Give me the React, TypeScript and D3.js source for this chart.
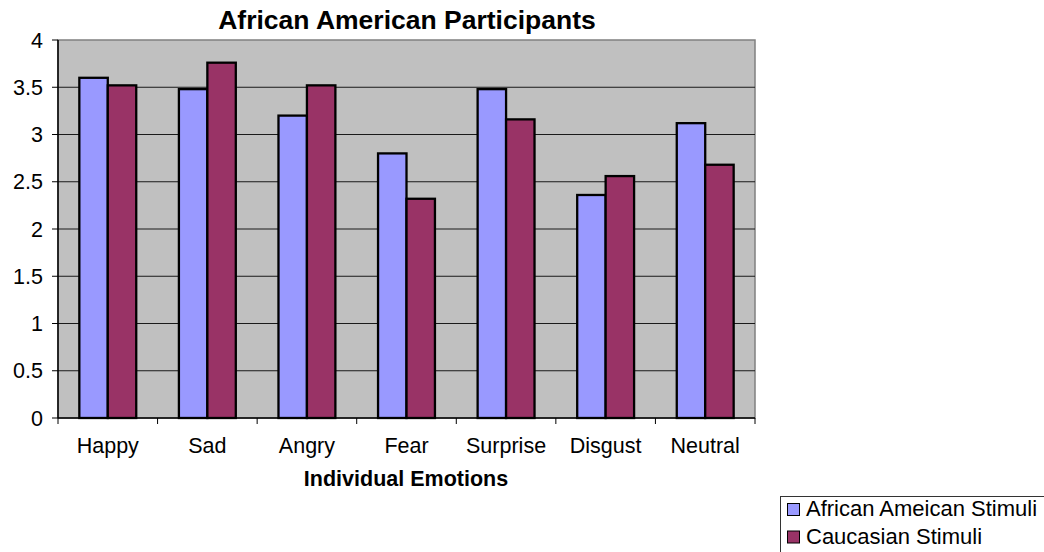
import React from 'react';
import { scaleBand, scaleLinear } from 'd3';

const categories = ['Happy', 'Sad', 'Angry', 'Fear', 'Surprise', 'Disgust', 'Neutral'];
const seriesNames = ['African Ameican Stimuli', 'Caucasian Stimuli'];
const africanAmericanStimuli = [3.6, 3.48, 3.2, 2.8, 3.48, 2.36, 3.12];
const caucasianStimuli = [3.52, 3.76, 3.52, 2.32, 3.16, 2.56, 2.68];
const yTicks = [0, 0.5, 1, 1.5, 2, 2.5, 3, 3.5, 4];
const colors = ['#9999FF', '#993366'];

const dims = {
  width: 1044,
  height: 552,
  left: 58,
  right: 755,
  top: 40,
  bottom: 418,
};

const font = 'Arial, "Liberation Sans", sans-serif';

const App: React.FC = () => {
  const x = scaleBand<string>()
    .domain(categories)
    .range([dims.left, dims.right])
    .padding(0);
  const inner = scaleBand<string>()
    .domain(seriesNames)
    .range([0, x.bandwidth()])
    .paddingInner(0)
    .paddingOuter(0.75);
  const y = scaleLinear().domain([0, 4]).range([dims.bottom, dims.top]);

  const series = [africanAmericanStimuli, caucasianStimuli];
  const edges = [...categories.map(c => x(c)!), dims.right];

  return (
    <svg
      width={dims.width}
      height={dims.height}
      style={{ position: 'absolute', left: 0, top: 0, fontFamily: font }}
    >
      <rect x={0} y={0} width={dims.width} height={dims.height} fill="#fff" />
      <text x={407} y={29} textAnchor="middle" fontSize={26.5} fontWeight="bold">
        African American Participants
      </text>

      {/* plot area */}
      <rect
        x={dims.left}
        y={dims.top}
        width={dims.right - dims.left}
        height={dims.bottom - dims.top}
        fill="#C0C0C0"
        stroke="#808080"
        strokeWidth={1.5}
      />
      {yTicks.filter(t => t > 0 && t < 4).map(t => (
        <line key={t} x1={dims.left} x2={dims.right} y1={y(t)} y2={y(t)} stroke="#1a1a1a" strokeWidth={1} />
      ))}

      {/* bars */}
      {series.map((vals, si) =>
        categories.map((c, ci) => (
          <rect
            key={c + si}
            x={x(c)! + inner(seriesNames[si])!}
            y={y(vals[ci])}
            width={inner.bandwidth()}
            height={y(0) - y(vals[ci])}
            fill={colors[si]}
            stroke="#000"
            strokeWidth={2.3}
          />
        ))
      )}

      {/* y axis */}
      <line x1={dims.left} x2={dims.left} y1={dims.top} y2={dims.bottom} stroke="#000" strokeWidth={1.5} />
      {yTicks.map(t => (
        <g key={t}>
          <line x1={dims.left - 6} x2={dims.left} y1={y(t)} y2={y(t)} stroke="#000" />
          <text x={43} y={y(t) + 7.5} textAnchor="end" fontSize={21.5}>
            {t}
          </text>
        </g>
      ))}

      {/* x axis */}
      <line x1={dims.left} x2={dims.right} y1={dims.bottom} y2={dims.bottom} stroke="#000" strokeWidth={1.5} />
      {edges.map((e, i) => (
        <line key={i} x1={e} x2={e} y1={dims.bottom} y2={dims.bottom + 6} stroke="#000" />
      ))}
      {categories.map(c => (
        <text key={c} x={x(c)! + x.bandwidth() / 2} y={453} textAnchor="middle" fontSize={21.5}>
          {c}
        </text>
      ))}
      <text x={406} y={486} textAnchor="middle" fontSize={21.5} fontWeight="bold">
        Individual Emotions
      </text>

      {/* legend */}
      <rect x={780.5} y={496.5} width={300} height={100} fill="#fff" stroke="#333" strokeWidth={1} />
      {seriesNames.map((s, i) => (
        <g key={s}>
          <rect x={787.5} y={503.5 + i * 27.5} width={12} height={12} fill={colors[i]} stroke="#000" strokeWidth={1} />
          <text x={806} y={516 + i * 27.5} fontSize={22}>
            {s}
          </text>
        </g>
      ))}
    </svg>
  );
};

export default App;
